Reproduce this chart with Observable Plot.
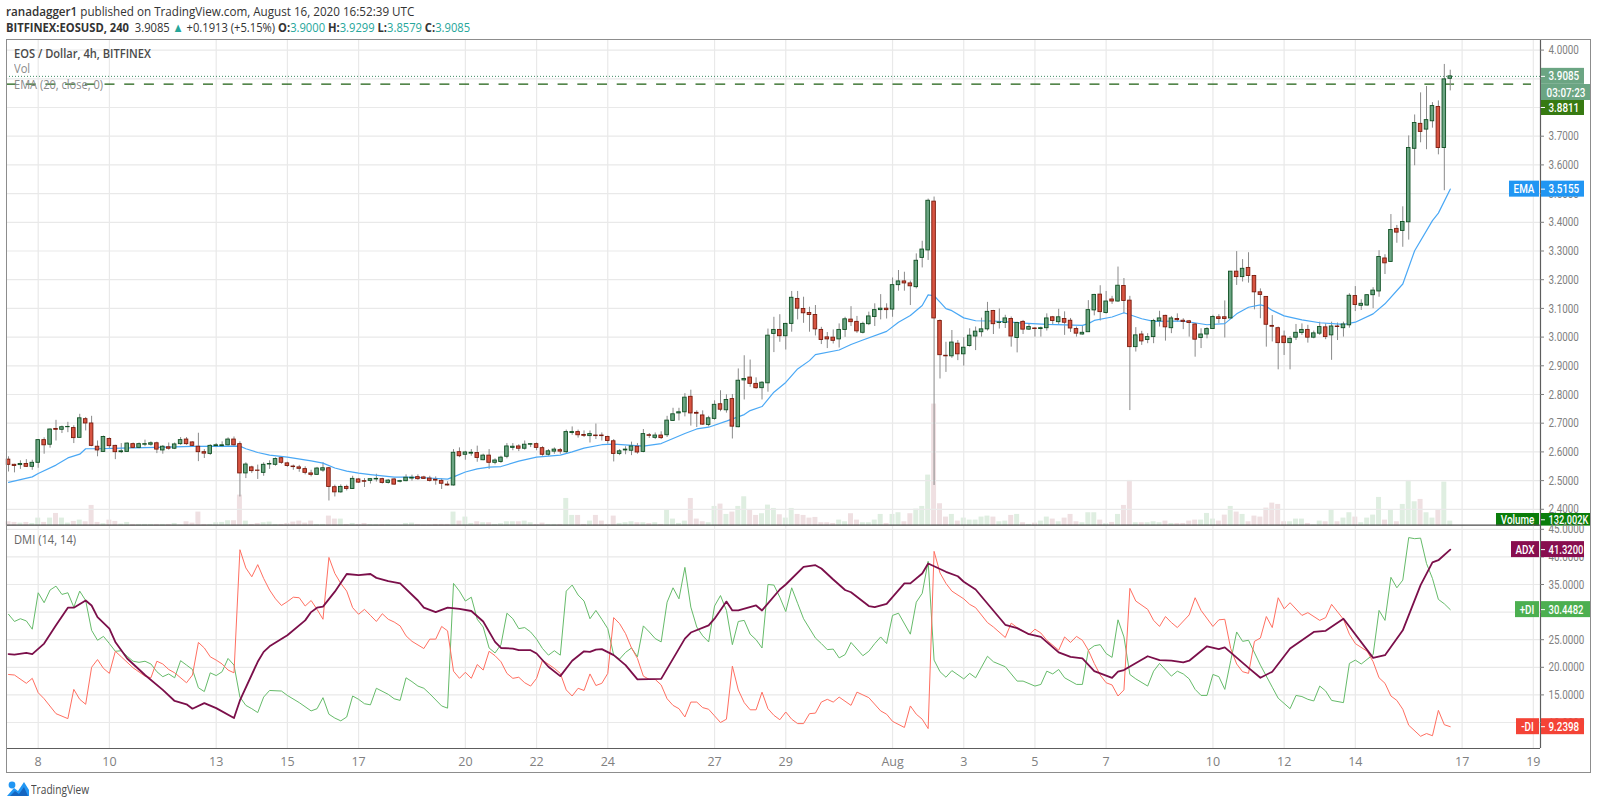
<!DOCTYPE html>
<html><head><meta charset="utf-8">
<script src="https://cdn.jsdelivr.net/npm/d3@7"></script>
<script src="https://cdn.jsdelivr.net/npm/@observablehq/plot@0.6"></script>
<style>
html,body{margin:0;padding:0;background:#fff;overflow:hidden}
#chart{position:relative;width:1600px;height:805px;font-family:"Open Sans",sans-serif;color:#333}
#chart>div.abs,#chart>svg{position:absolute}
#chart>div.abs{transform-origin:left center}
.pane{position:absolute;left:0}
b{font-weight:700}
.t{color:#26a69a}
</style></head><body><div id="chart"></div>
<script>
// 4h candles of EOS/USD; index 0 = 8 July 00:00, first candle is index -5
const opens=[2.573,2.555,2.554,2.558,2.548,2.562,2.641,2.625,2.680,2.677,2.686,2.683,2.649,2.714,2.699,2.618,2.600,2.645,2.621,2.599,2.600,2.627,2.614,2.625,2.625,2.630,2.605,2.616,2.611,2.627,2.643,2.633,2.618,2.599,2.593,2.620,2.620,2.623,2.643,2.627,2.525,2.546,2.535,2.527,2.556,2.555,2.578,2.560,2.549,2.546,2.540,2.525,2.520,2.535,2.543,2.477,2.459,2.478,2.471,2.504,
2.498,2.499,2.504,2.505,2.492,2.504,2.496,2.498,2.507,2.512,2.511,2.507,2.503,2.499,2.486,2.483,2.599,2.590,2.594,2.596,2.571,2.587,2.562,2.565,2.583,2.614,2.619,2.611,2.625,2.627,2.613,2.590,2.601,2.606,2.599,2.666,2.669,2.659,2.655,2.657,2.657,2.652,2.637,2.593,2.605,2.604,2.618,2.600,2.658,2.649,2.657,2.658,2.708,2.734,2.738,2.792,2.736,2.727,2.694,
2.715,2.766,2.745,2.784,2.686,2.849,2.859,2.837,2.822,2.839,3.011,3.025,3.003,3.046,3.133,3.098,3.084,3.077,3.025,2.999,2.998,2.992,3.025,3.061,3.053,3.015,3.045,3.070,3.094,3.099,3.096,3.181,3.194,3.187,3.174,3.276,3.302,3.472,3.056,2.935,2.933,2.977,
2.940,2.969,3.002,3.017,3.027,3.091,3.049,3.049,3.063,2.997,3.053,3.026,3.030,3.028,3.031,3.069,3.052,3.063,3.057,3.028,3.009,3.017,3.093,3.148,3.084,3.131,3.124,3.178,3.127,2.965,3.009,2.990,3.000,3.055,3.074,3.031,3.063,3.057,3.055,3.044,2.997,3.009,3.028,3.069,3.069,3.065,3.228,3.209,3.241,3.213,
3.156,3.140,3.039,3.031,3.002,2.979,2.998,3.014,3.025,2.998,3.012,3.034,3.006,3.037,3.031,3.041,3.143,3.109,3.110,3.146,3.159,3.274,3.262,3.377,3.370,3.400,3.656,3.743,3.723,3.752,3.802,3.659,3.900];
const closes=[2.555,2.551,2.558,2.548,2.562,2.641,2.623,2.678,2.677,2.686,2.687,2.648,2.717,2.699,2.621,2.605,2.652,2.620,2.599,2.602,2.629,2.614,2.627,2.627,2.630,2.608,2.618,2.611,2.626,2.641,2.627,2.621,2.599,2.594,2.621,2.623,2.623,2.643,2.623,2.525,2.556,2.533,2.534,2.555,2.558,2.575,2.562,2.551,2.547,2.541,2.527,2.520,2.542,2.543,2.478,2.459,2.478,2.471,2.506,2.493,
2.496,2.505,2.506,2.492,2.500,2.486,2.498,2.510,2.510,2.505,2.506,2.499,2.500,2.489,2.483,2.597,2.585,2.598,2.597,2.579,2.587,2.562,2.570,2.580,2.619,2.618,2.611,2.625,2.627,2.614,2.590,2.602,2.608,2.601,2.669,2.669,2.658,2.656,2.662,2.655,2.655,2.638,2.593,2.602,2.608,2.619,2.598,2.662,2.656,2.657,2.648,2.709,2.731,2.738,2.789,2.734,2.733,2.695,2.717,
2.764,2.747,2.781,2.688,2.848,2.854,2.837,2.822,2.841,3.005,3.025,3.003,3.046,3.137,3.099,3.083,3.077,3.027,2.990,2.992,2.987,3.025,3.062,3.052,3.020,3.046,3.072,3.094,3.099,3.094,3.181,3.194,3.187,3.177,3.266,3.305,3.475,3.065,2.937,2.933,2.981,2.940,
2.963,3.005,3.019,3.027,3.088,3.045,3.051,3.065,3.002,3.049,3.026,3.035,3.028,3.031,3.065,3.056,3.069,3.050,3.030,3.012,3.015,3.094,3.147,3.087,3.124,3.124,3.179,3.126,2.965,3.006,2.985,3.000,3.056,3.065,3.034,3.065,3.059,3.053,3.049,2.991,3.009,3.028,3.070,3.063,3.063,3.228,3.209,3.238,3.213,3.156,
3.147,3.043,3.036,2.979,2.979,2.994,3.015,3.025,2.998,3.013,3.035,3.000,3.037,3.035,3.044,3.144,3.112,3.116,3.146,3.162,3.279,3.257,3.373,3.364,3.401,3.659,3.746,3.715,3.756,3.805,3.659,3.898,3.9085];
const highs=[2.583,2.557,2.569,2.573,2.571,2.643,2.649,2.680,2.710,2.690,2.703,2.691,2.731,2.720,2.724,2.638,2.655,2.649,2.623,2.629,2.631,2.631,2.631,2.641,2.635,2.634,2.622,2.631,2.631,2.650,2.650,2.635,2.665,2.608,2.625,2.629,2.635,2.649,2.652,2.635,2.562,2.550,2.554,2.562,2.569,2.579,2.583,2.564,2.554,2.553,2.548,2.536,2.546,2.562,2.546,2.484,2.485,2.484,2.515,2.507,
2.507,2.507,2.522,2.508,2.504,2.507,2.501,2.520,2.519,2.520,2.515,2.515,2.513,2.506,2.496,2.608,2.614,2.602,2.608,2.620,2.592,2.608,2.576,2.585,2.629,2.629,2.625,2.638,2.629,2.631,2.618,2.608,2.614,2.612,2.676,2.687,2.676,2.673,2.673,2.697,2.666,2.655,2.643,2.608,2.618,2.634,2.629,2.678,2.664,2.666,2.670,2.724,2.752,2.752,2.803,2.815,2.743,2.743,2.724,
2.778,2.813,2.799,2.800,2.889,2.935,2.920,2.858,2.845,3.028,3.069,3.078,3.048,3.159,3.159,3.139,3.104,3.110,3.034,3.016,3.025,3.046,3.069,3.106,3.072,3.052,3.087,3.116,3.148,3.116,3.206,3.232,3.226,3.195,3.290,3.334,3.481,3.488,3.060,2.982,3.023,2.988,
2.998,3.029,3.035,3.066,3.121,3.093,3.098,3.076,3.070,3.052,3.058,3.047,3.033,3.035,3.081,3.072,3.097,3.088,3.065,3.035,3.038,3.127,3.149,3.179,3.159,3.142,3.244,3.204,3.142,3.033,3.020,3.012,3.062,3.090,3.076,3.072,3.081,3.064,3.058,3.047,3.029,3.033,3.076,3.078,3.126,3.228,3.298,3.270,3.294,3.215,
3.168,3.141,3.075,3.035,3.021,3.002,3.044,3.046,3.041,3.021,3.052,3.046,3.052,3.049,3.052,3.151,3.176,3.130,3.148,3.172,3.301,3.287,3.427,3.389,3.454,3.701,3.774,3.851,3.873,3.817,3.823,3.950,3.9299];
const lows=[2.530,2.527,2.539,2.546,2.536,2.543,2.592,2.613,2.638,2.664,2.667,2.629,2.648,2.673,2.618,2.583,2.599,2.612,2.573,2.594,2.599,2.611,2.611,2.618,2.620,2.594,2.592,2.606,2.608,2.623,2.623,2.618,2.566,2.577,2.588,2.615,2.615,2.620,2.620,2.443,2.507,2.525,2.504,2.515,2.539,2.550,2.557,2.546,2.536,2.529,2.520,2.513,2.519,2.529,2.429,2.443,2.456,2.464,2.469,2.490,
2.476,2.488,2.495,2.488,2.488,2.484,2.492,2.496,2.498,2.501,2.504,2.495,2.484,2.469,2.481,2.481,2.580,2.571,2.585,2.564,2.569,2.539,2.555,2.560,2.576,2.604,2.601,2.606,2.615,2.604,2.585,2.585,2.592,2.592,2.594,2.658,2.648,2.650,2.631,2.643,2.638,2.627,2.565,2.587,2.590,2.587,2.592,2.597,2.647,2.643,2.643,2.650,2.706,2.708,2.722,2.690,2.685,2.693,2.687,
2.710,2.740,2.735,2.645,2.684,2.781,2.825,2.818,2.781,2.808,2.946,2.982,2.955,3.017,3.060,3.048,3.017,3.004,2.974,2.960,2.976,2.962,2.999,3.037,3.013,3.011,3.040,3.037,3.060,3.063,3.069,3.160,3.160,3.110,3.168,3.241,3.267,2.483,2.854,2.877,2.926,2.918,
2.899,2.965,2.953,3.000,3.021,3.009,3.028,3.030,2.965,2.945,3.009,3.023,3.000,3.000,3.021,3.042,3.044,3.006,3.016,3.000,3.007,3.016,3.074,3.056,3.080,3.114,3.121,3.081,2.744,2.948,2.971,2.977,2.977,3.035,2.986,3.012,3.052,3.026,3.000,2.930,2.960,2.994,3.027,3.047,2.997,3.063,3.180,3.192,3.188,3.095,
3.064,2.965,2.983,2.886,2.936,2.886,2.988,3.006,2.979,2.994,3.006,2.991,2.919,2.988,3.000,3.031,3.089,3.093,3.108,3.099,3.139,3.218,3.260,3.327,3.313,3.338,3.597,3.677,3.653,3.728,3.635,3.510,3.8579];
const volumesK=[114,97,79,97,70,211,97,211,334,211,79,123,158,114,546,97,62,158,123,53,97,44,44,44,44,44,44,44,70,26,114,79,370,44,44,88,97,141,141,818,132,44,70,88,106,44,44,70,106,132,79,132,44,44,264,185,185,44,70,44,70,44,44,44,44,18,18,70,79,44,26,26,44,44,44,370,132,238,70,114,88,88,44,62,114,
114,114,132,88,44,79,44,44,44,730,282,282,44,132,282,132,44,264,70,88,114,88,88,70,88,44,414,185,70,132,730,185,114,88,519,581,308,370,519,774,414,282,326,554,466,299,211,466,308,282,211,229,88,88,70,158,114,326,158,88,88,158,308,70,308,352,114,326,449,519,1346,3221,590,238,308,132,211,158,158,238,264,238,114,132,282,308,88,
44,79,132,238,185,114,211,308,114,88,352,352,158,62,97,308,546,1206,88,88,88,114,88,132,70,70,70,132,158,158,334,185,132,290,519,370,308,114,264,238,475,607,572,114,114,185,185,70,26,132,114,414,114,211,352,238,88,211,290,757,158,414,114,572,1206,642,704,352,211,414,1162,132];

const emaAt=[-5,-1,0,3,5,7,8,10,14,20,26,34,35,37,39,42,46,48,50,52,54,56,60,62,65,69,70,72,74,76,78,81,84,88,90,92,95,97,102,105,109,111,113,116,119,120,122,124,126,128,130,131,135,137,139,143,145,147,149,150,151,152,153,154,156,158,161,166,170,176,177,178,181,183,186,188,193,197,200,202,203,204,206,207,208,210,213,216,220,222,225,227,230,232,235,236,238];
const emaValues=[2.494,2.513,2.525,2.554,2.579,2.592,2.611,2.611,2.613,2.616,2.619,2.620,2.611,2.598,2.589,2.582,2.569,2.561,2.544,2.533,2.526,2.521,2.512,2.512,2.510,2.505,2.513,2.530,2.541,2.547,2.549,2.568,2.582,2.589,2.600,2.613,2.625,2.627,2.620,2.629,2.664,2.680,2.686,2.707,2.730,2.744,2.758,2.808,2.842,2.889,2.918,2.939,2.955,2.974,2.990,3.020,3.052,3.075,3.110,3.147,3.144,3.122,3.099,3.092,3.067,3.057,3.056,3.049,3.044,3.041,3.047,3.058,3.070,3.085,3.064,3.055,3.056,3.043,3.047,3.081,3.093,3.104,3.112,3.107,3.093,3.074,3.060,3.050,3.044,3.052,3.081,3.116,3.185,3.301,3.406,3.432,3.5155];

const adxAt=[-5,-4,-2,-1,1,3,5,6,8,9,10,12,13,15,18,21,23,25,26,28,30,33,34,37,38,39,42,45,46,47,48,50,52,54,56,57,59,61,64,65,67,69,71,73,75,77,78,80,81,83,84,86,88,90,92,93,94,95,97,99,101,105,109,110,113,114,116,117,118,121,122,125,126,129,131,132,134,136,137,140,141,143,146,147,149,150,153,155,156,158,163,165,167,169,172,174,176,178,181,182,183,187,189,191,193,194,197,199,200,204,206,208,211,215,217,220,225,227,230,233,235,236,238];
const adxValues=[22.4,22.3,22.6,22.4,24.3,27.6,30.8,30.8,32.1,31.2,29.1,27.0,24.6,21.6,18.6,15.9,13.9,13.3,12.5,13.5,12.6,10.8,14.0,21.0,22.8,23.8,25.8,28.5,30.0,30.8,31.0,33.7,36.9,36.7,36.9,36.2,35.6,35.2,32.1,30.8,30.0,30.8,30.6,30.2,28.3,24.6,23.5,23.4,23.1,23.1,22.5,20.1,18.4,21.2,22.9,22.8,23.2,23.3,22.2,20.4,17.8,17.9,25.2,26.3,27.6,28.8,31.9,30.3,30.3,31.2,30.3,34.1,35.0,38.2,38.5,37.9,35.9,34.0,33.6,31.1,30.9,31.5,35.2,35.2,37.0,38.8,37.3,36.5,35.5,34.1,27.7,27.1,26.0,25.5,22.7,21.9,21.6,19.3,18.1,19.2,19.5,22.0,21.3,21.2,20.9,21.2,23.8,23.3,23.6,19.9,18.1,19.2,23.4,26.4,26.6,28.8,21.7,22.2,26.7,34.9,39.0,39.4,41.32];

const plusAt=[-5,-4,-3,-2,-1,0,1,2,3,4,5,6,7,8,9,10,11,12,13,14,15,16,17,18,19,20,21,22,23,24,25,26,27,28,29,30,31,32,33,34,35,36,37,38,39,41,42,44,46,47,48,49,50,51,52,53,54,55,56,57,59,60,61,62,63,64,65,66,68,69,70,71,72,73,74,75,76,77,78,79,80,81,82,83,84,85,86,87,88,89,90,91,92,93,94,95,96,97,98,99,100,101,102,103,104,105,106,107,108,109,110,111,112,113,114,115,116,117,118,119,120,121,122,123,124,125,126,127,128,129,131,132,133,134,135,136,137,139,140,141,142,143,144,145,147,148,149,150,151,152,153,154,156,157,158,160,161,163,165,166,168,169,170,171,172,173,175,176,177,178,179,180,181,182,183,184,185,187,188,189,191,192,193,194,195,196,197,198,199,200,201,202,203,204,206,208,209,211,212,213,214,215,216,217,218,220,221,222,223,225,226,227,228,229,230,231,232,233,234,235,236,237,238];
const plusValues=[29.6,28.3,28.8,28.4,26.9,33.5,31.7,34.0,34.7,33.2,33.5,30.9,33.8,32.1,26.7,24.9,25.6,24.3,22.9,23.0,22.0,21.1,20.9,21.1,20.6,19.2,18.3,18.8,18.1,21.2,20.4,19.6,16.3,15.6,19.0,18.5,19.2,21.6,20.4,14.6,13.1,12.5,11.8,14.6,15.8,15.7,14.9,13.6,12.1,12.5,14.5,11.5,10.8,10.3,11.0,14.8,14.2,13.4,13.2,16.2,15.1,14.3,14.0,18.1,17.4,16.6,16.2,15.2,13.0,12.6,35.2,33.8,32.0,32.7,28.7,27.3,23.5,22.6,24.1,29.8,28.8,27.0,27.2,26.4,25.1,23.4,22.2,23.0,22.2,33.8,34.9,33.1,32.0,28.8,30.3,28.7,27.0,22.2,21.5,22.7,23.5,21.9,27.5,26.4,25.2,24.6,31.8,34.4,32.4,38.1,30.9,27.3,25.7,24.6,31.1,33.0,30.3,24.1,28.3,28.5,26.0,25.0,23.5,35.0,34.9,32.7,30.1,34.4,31.6,28.8,25.3,24.3,23.2,23.3,21.7,22.3,24.5,22.1,22.9,24.3,25.5,24.3,29.4,29.8,26.0,31.8,33.4,39.2,21.3,19.2,18.2,19.4,17.9,18.9,18.1,22.0,21.0,20.1,17.5,17.5,16.6,16.9,19.3,18.8,19.6,18.1,16.9,16.9,23.1,23.9,24.1,22.5,21.8,28.6,25.5,18.7,17.9,16.6,19.3,20.7,18.4,19.3,18.8,17.9,16.0,14.9,14.9,18.7,18.3,16.0,21.2,26.4,24.7,24.9,20.4,16.4,14.4,12.5,14.9,14.7,14.2,13.9,16.6,15.7,14.0,13.6,20.7,21.3,20.6,22.3,30.3,28.5,36.3,34.4,35.8,43.5,43.3,43.4,38.8,36.1,32.3,31.5,30.4482];

const minusAt=[-5,-4,-2,-1,0,1,3,5,6,7,8,9,10,11,12,13,14,16,18,19,20,21,22,23,25,26,27,28,29,30,31,32,33,34,35,36,37,38,39,40,41,42,43,44,45,46,47,48,49,50,51,52,53,54,55,56,57,58,59,60,61,62,63,65,66,67,68,69,70,71,72,73,74,75,76,77,78,79,80,81,82,83,84,85,87,88,89,90,91,92,93,94,95,96,97,98,99,100,101,102,103,104,105,106,107,108,109,110,111,112,113,114,115,116,117,118,119,120,121,122,123,124,125,126,127,128,129,130,131,132,133,134,135,137,138,140,142,143,144,146,147,148,149,150,151,152,153,154,156,157,158,160,161,163,164,165,167,168,169,170,172,173,174,175,176,177,178,179,180,181,182,183,184,185,187,188,189,190,191,192,194,195,196,198,199,200,201,202,203,204,205,206,207,208,209,210,211,213,214,216,217,218,220,221,222,224,225,226,227,228,229,230,231,233,234,235,236,237,238];
const minusValues=[18.7,18.6,17.1,18.0,15.4,14.3,11.6,10.7,16.0,14.2,13.3,20.0,21.4,19.8,18.9,22.9,21.9,19.9,18.4,18.1,21.1,20.6,19.6,19.0,17.2,18.6,24.5,23.5,21.9,21.3,20.6,19.5,19.0,41.3,38.0,36.4,38.6,36.1,34.0,32.4,31.2,31.9,32.7,32.6,31.1,32.1,30.5,28.7,39.9,37.0,35.2,33.8,30.8,29.6,30.5,29.4,28.3,29.7,28.7,28.2,27.5,25.7,24.7,23.4,25.1,25.1,27.4,26.6,19.3,18.0,19.1,18.0,20.5,19.5,22.9,22.1,21.0,18.9,18.0,18.2,17.2,16.6,18.0,21.3,19.8,18.9,15.9,14.8,16.2,15.8,18.8,16.7,17.1,18.9,29.0,27.9,26.1,23.5,21.6,18.4,17.8,17.8,16.8,14.3,13.1,12.5,11.0,13.7,13.7,12.7,12.4,11.2,10.0,10.6,20.2,15.9,13.6,12.3,12.3,15.5,12.5,11.3,10.5,11.9,10.6,9.8,9.8,11.6,11.7,13.7,14.2,13.7,14.6,13.1,15.5,14.5,12.1,11.5,10.2,9.1,13.0,11.5,10.6,8.9,41.0,37.1,35.2,33.8,32.4,31.4,30.8,28.1,27.3,25.4,28.0,27.2,25.9,26.9,26.2,24.9,23.1,25.5,24.5,25.6,24.9,23.1,20.7,18.6,17.2,16.8,14.8,15.9,34.3,32.0,30.5,28.5,27.4,29.2,28.1,27.2,29.5,32.6,30.3,27.4,28.6,28.7,23.4,20.6,19.2,18.9,24.7,25.3,29.2,27.2,32.6,30.6,31.7,29.4,29.9,28.5,29.0,31.4,28.7,26.0,24.3,22.9,21.0,18.1,17.1,14.8,14.0,12.4,9.5,7.5,8.0,7.6,12.2,9.6,9.2398];

const priceTicks=[2.4,2.5,2.6,2.7,2.8,2.9,3.0,3.1,3.2,3.3,3.4,3.5,3.6,3.7,3.8,3.9,4.0];
const dmiTicks=[10,15,20,25,30,35,40,45];
const dayLabels=["8","10","13","15","17","20","22","24","27","29","Aug","3","5","7","10","12","14","17","19"];
const dayIndex=[0,12,30,42,54,72,84,96,114,126,144,156,168,180,198,210,222,240,252];

// geometry of the canvas
const W=1600,H=805,FRAME_L=6,AXIS_PX=1540,TOP=38.7,DIV=525.3,TIME=748.3;
const ix=px=>(px-37.7)/5.933;
const axisI=ix(AXIS_PX);
const xOpt={domain:[ix(FRAME_L),ix(W)],axis:null};
const candles=opens.map((o,k)=>({i:k-5,o,c:closes[k],h:highs[k],l:lows[k],v:volumesK[k],up:closes[k]>=o}));
const zip=(a,b)=>a.map((i,k)=>({i,v:b[k]}));
const font='"Open Sans",sans-serif';
const narrow='Roboto';
const GRID="#e9e9e9",AX="#5d5d5d",TICK="#7e7e7e",LBL="#808080";

function tagMarks(tags,unit){
  const ms=[];
  for(const t of tags){
    const [lp,rp,y,lab,val,fill]=t;
    const h=unit;
    if(lp!=null){
      ms.push(Plot.rect([0],{x1:ix(lp),x2:ix(AXIS_PX-1),y1:y-h/2,y2:y+h/2,fill}));
      ms.push(Plot.text([lab],{x:ix((lp+AXIS_PX)/2-1),y,text:d=>d,fill:"#fff",fontSize:12.8,fontFamily:narrow,fontWeight:500}));
    }
    ms.push(Plot.rect([0],{x1:ix(AXIS_PX+1),x2:ix(rp),y1:y-h/2,y2:y+h/2,fill}));
    ms.push(Plot.ruleY([y],{x1:ix(AXIS_PX+1),x2:ix(AXIS_PX+5),stroke:"#fff",strokeWidth:1}));
    ms.push(Plot.text([val],{x:ix(AXIS_PX+8),y,text:d=>d,textAnchor:"start",fill:"#fff",fontSize:12.8,fontFamily:narrow,fontWeight:500}));
  }
  return ms;
}

function pane(top,node){node.classList.add("pane");node.style.top=top+"px";document.getElementById("chart").appendChild(node);}

const base={width:W,marginLeft:FRAME_L,marginRight:0,marginTop:0,style:{background:"transparent",fontFamily:font,overflow:"visible"}};
const priceDomain=[3-(DIV-336.3)/287,3+(336.3-TOP)/287];
const priceUnit=16/287;
const dmiUnit=16/5.52;
const volDomain=[0,(DIV-TOP)*26.4];

// Volume pane (behind the candles)
const volPane=Plot.plot({...base,height:DIV-TOP,marginBottom:0,x:xOpt,
  y:{domain:volDomain,axis:null},
  marks:[
    Plot.rect(candles,{x1:d=>d.i-.42,x2:d=>d.i+.42,y1:0,y2:"v",fill:d=>d.up?"#dfeee1":"#efe0e2"})
  ]});
pane(TOP,volPane);

// Price pane
const pricePane=Plot.plot({...base,height:DIV-TOP,marginBottom:0,x:xOpt,
  y:{domain:priceDomain,axis:null},
  marks:[
    Plot.ruleY(priceTicks,{x1:ix(FRAME_L),x2:axisI,stroke:GRID,strokeWidth:1.2}),
    Plot.ruleX(dayIndex,{stroke:GRID,strokeWidth:1.2}),
    Plot.ruleY([3.9085],{x1:ix(FRAME_L),x2:axisI,stroke:"#3d8a63",strokeWidth:1,strokeDasharray:"1 2"}),
    Plot.ruleY([3.8811],{x1:ix(FRAME_L),x2:ix(1531),stroke:"#1d5f10",strokeWidth:1.3,strokeDasharray:"10 9.7"}),
    Plot.ruleX(candles,{x:"i",y1:"l",y2:"h",stroke:"#8a8a8a",strokeWidth:1}),
    Plot.line(zip(emaAt,emaValues),{x:"i",y:"v",stroke:"#4aa8f5",strokeWidth:1.2}),
    Plot.rect(candles,{x1:d=>d.i-.3,x2:d=>d.i+.3,y1:d=>Math.min(d.o,d.c),y2:d=>Math.max(d.o,d.c),
      fill:d=>d.up?"#6ba583":"#d75442",stroke:d=>d.up?"#0f4f22":"#7a1a0c",strokeWidth:.9}),
    Plot.ruleX([axisI],{stroke:AX,strokeWidth:1.2}),
    Plot.ruleY(priceTicks,{x1:axisI,x2:ix(AXIS_PX+4),stroke:TICK}),
    Plot.text(priceTicks,{x:ix(AXIS_PX+8),y:d=>d,text:d=>d.toFixed(4),textAnchor:"start",fill:LBL,fontSize:12.8,fontFamily:narrow}),
    ...tagMarks([
      [null,1584,3.9085,"", "3.9085","#6ba583"],
      [null,1584,3.8,"", "3.8811","#377a12"],
      [1509,1584,3.5155,"EMA","3.5155","#2196f3"]
    ],priceUnit),
    Plot.rect([0],{x1:ix(1541),x2:ix(1590),y1:3-(99.7-336.3)/287,y2:3-(83.7-336.3)/287,fill:"#6ba583"}),
    Plot.text(["03:07:23"],{x:ix(1565.5),y:3-(91.7-336.3)/287,text:d=>d,fill:"#fff",fontSize:12.8,fontFamily:narrow,fontWeight:500})
  ]});
pane(TOP,pricePane);

// Volume tag on top of the axis: it sits on the divider, so it is cut to fit above it
const volTagCenter=(DIV-519)*26.4;
const volTag=Plot.plot({...base,height:DIV-TOP,marginBottom:0,x:xOpt,
  y:{domain:volDomain,axis:null},
  marks:[...tagMarks([[1496,1590,volTagCenter,"Volume","132.002K","#0a7d0a"]],12.6*26.4)]});
pane(TOP,volTag);

// DMI pane
const dmiH=TIME-DIV;
const dmiFloor=10-(TIME-722.3)/5.52;
const dmiPane=Plot.plot({...base,height:dmiH+24,marginBottom:24,x:xOpt,
  y:{domain:[dmiFloor,40+(556.7-DIV)/5.52],axis:null},
  marks:[
    Plot.ruleY(dmiTicks,{x1:ix(FRAME_L),x2:axisI,stroke:GRID,strokeWidth:1.2}),
    Plot.ruleX(dayIndex,{stroke:GRID,strokeWidth:1.2}),
    Plot.line(zip(plusAt,plusValues),{x:"i",y:"v",stroke:"#66bb6a",strokeWidth:1}),
    Plot.line(zip(minusAt,minusValues),{x:"i",y:"v",stroke:"#ff6f61",strokeWidth:1}),
    Plot.line(zip(adxAt,adxValues),{x:"i",y:"v",stroke:"#7b0f4a",strokeWidth:1.8}),
    Plot.ruleX([axisI],{stroke:AX,strokeWidth:1.2}),
    Plot.ruleY(dmiTicks,{x1:axisI,x2:ix(AXIS_PX+4),stroke:TICK}),
    Plot.text(dmiTicks,{x:ix(AXIS_PX+8),y:d=>d,text:d=>d.toFixed(4),textAnchor:"start",fill:LBL,fontSize:12.8,fontFamily:narrow}),
    Plot.ruleY([dmiFloor],{x1:ix(FRAME_L),x2:axisI,stroke:AX,strokeWidth:1.2}),
    Plot.ruleY([45.74],{x1:ix(FRAME_L),x2:axisI,stroke:"#4a4a4a",strokeWidth:1.3}),
    Plot.text(dayLabels,{x:(d,k)=>dayIndex[k],y:dmiFloor,dy:13,text:d=>d,fill:LBL,fontSize:12.5}),
    ...tagMarks([
      [1511,1584,41.32,"ADX","41.3200","#880e4f"],
      [1515,1590,30.4482,"+DI","30.4482","#4caf50"],
      [1516,1584,9.2398,"-DI","9.2398","#f44336"]
    ],dmiUnit)
  ]});
pane(DIV,dmiPane);

// the reference's axis font is condensed: narrow the Roboto labels, keeping them as real text
for(const g of document.querySelectorAll('#chart svg g[font-family="Roboto"]')){
  for(const t of g.querySelectorAll("text")){
    const squeeze=t.textContent==="132.002K"?0.72:(t.textContent==="41.3200"||t.textContent==="30.4482"?0.74:0.77);
    t.setAttribute("textLength",(t.getComputedTextLength()*squeeze).toFixed(1));
    t.setAttribute("lengthAdjust","spacingAndGlyphs");
  }
}

// text, frame, logo
const chart=document.getElementById("chart");
function add(html,css){const d=document.createElement("div");d.className="abs";d.style.cssText=css;d.innerHTML=html;chart.appendChild(d);return d;}
const txt="white-space:nowrap;";
add("",`left:6px;top:38.5px;width:1585px;height:734px;border:1px solid #8d8d8d;box-sizing:border-box;pointer-events:none`);
add(`<b style="font-weight:600">ranadagger1</b> published on TradingView.com, August 16, 2020 16:52:39 UTC`,txt+`left:6px;top:2px;font-size:13px;color:#333;transform:scaleX(.896)`);
add(`<b>BITFINEX:EOSUSD, 240</b>&nbsp; 3.9085 <span class="t">▲</span> +0.1913 (+5.15%) <b>O:</b><span class="t">3.9000</span> <b>H:</b><span class="t">3.9299</span> <b>L:</b><span class="t">3.8579</span> <b>C:</b><span class="t">3.9085</span>`,txt+`left:6px;top:18px;font-size:13px;color:#333;transform:scaleX(.86)`);
add(`EOS / Dollar, 4h, BITFINEX`,txt+`left:14px;top:44px;font-size:12.7px;color:#4a4a4a;font-weight:600;transform:scaleX(.876)`);
add(`Vol`,txt+`left:14px;top:59px;font-size:12.7px;color:#8a8a8a;transform:scaleX(.88)`);
add(`EMA (20, close, 0)`,txt+`left:14px;top:75px;font-size:12.7px;color:#8a8a8a;transform:scaleX(.87)`);
add(`DMI (14, 14)`,txt+`left:14px;top:530px;font-size:12.7px;color:#666;transform:scaleX(.88)`);
add(`<svg width="22" height="16" viewBox="0 0 22 16"><circle cx="5" cy="5" r="3.4" fill="#2196f3"/><path d="M0 16 L7 8 L11 11 L17 2 L22 10 L22 16 Z" fill="#2196f3"/><path d="M3 16 L8 11 L12 14 L17 7 L21 16 Z" fill="#1565c0"/></svg>`,`left:7px;top:780px;line-height:0`);
add(`TradingView`,txt+`left:31px;top:780px;font-size:12.7px;color:#4a4a4a;transform:scaleX(.8)`);
</script></body></html>
